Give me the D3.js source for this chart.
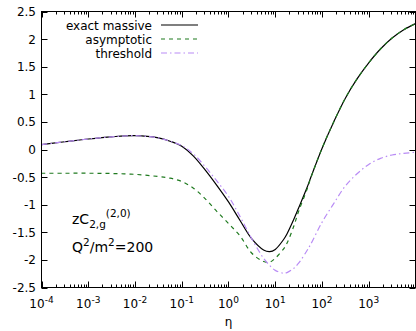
<!DOCTYPE html>
<html>
<head>
<meta charset="utf-8">
<script src="https://cdn.jsdelivr.net/npm/d3@7"></script>
<style>
  html, body { margin: 0; padding: 0; background: #fff; }
  svg { display: block; font-family: "DejaVu Sans", sans-serif; }
</style>
</head>
<body>
<svg id="chart" width="416" height="331"></svg>
<script>
// Sampling points in eta (shared by all three curves)
const eta = [1e-4, 3.16e-4, 1e-3, 3.16e-3, 1e-2, 3.16e-2, 5.62e-2, 0.1, 0.178, 0.316, 0.562, 1,
             1.78, 3.16, 5.62, 7.59, 10, 15.1, 17.8, 25.1, 31.6, 47.9, 56.2, 100, 178, 316, 562,
             1000, 1780, 3160, 5620, 10000];

// zC_{2,g}^{(2,0)} at Q^2/m^2 = 200
const exactMassive = [0.09, 0.14, 0.19, 0.23, 0.25, 0.21, 0.15, 0.06, -0.12, -0.37, -0.65, -0.95,
                      -1.29, -1.62, -1.82, -1.85, -1.81, -1.63, -1.53, -1.26, -1.06, -0.69, -0.53, 0.02,
                      0.50, 0.93, 1.28, 1.57, 1.82, 2.02, 2.17, 2.28];
const asymptotic   = [-0.43, -0.43, -0.43, -0.435, -0.45, -0.49, -0.52, -0.58, -0.70, -0.89, -1.12, -1.34,
                      -1.57, -1.88, -2.03, -2.04, -1.97, -1.80, -1.70, -1.38, -1.12, -0.72, -0.54, 0.02,
                      0.50, 0.93, 1.28, 1.57, 1.82, 2.02, 2.17, 2.28];
const threshold    = [0.09, 0.14, 0.19, 0.23, 0.25, 0.21, 0.15, 0.07, -0.08, -0.31, -0.57, -0.85,
                      -1.22, -1.62, -1.97, -2.10, -2.19, -2.24, -2.23, -2.15, -2.06, -1.83, -1.73, -1.32,
                      -0.98, -0.66, -0.44, -0.27, -0.16, -0.10, -0.07, -0.05];

const seriesNames = ["exact massive", "asymptotic", "threshold"];
const xTicks = [1e-4, 1e-3, 1e-2, 1e-1, 1e0, 1e1, 1e2, 1e3];
const xTickExp = ["-4", "-3", "-2", "-1", "0", "1", "2", "3"];
const yTicks = [-2.5, -2, -1.5, -1, -0.5, 0, 0.5, 1, 1.5, 2, 2.5];

const svg = d3.select("#chart");
const L = 41.5, R = 415.5, T = 11.5, B = 287.5;

const x = d3.scaleLog().domain([1e-4, 1e4]).range([L, R]);
const y = d3.scaleLinear().domain([-2.5, 2.5]).range([B, T]);

// clip for curves
svg.append("defs").append("clipPath").attr("id", "plotclip")
  .append("rect").attr("x", L).attr("y", T).attr("width", R - L).attr("height", B - T);

// minor / major ticks on all four sides, pointing inward
const tickG = svg.append("g").attr("stroke", "#000").attr("stroke-width", 1);
const minorTicks = [];
for (let e = -4; e < 4; e++) for (let m = 2; m <= 9; m++) minorTicks.push(m * Math.pow(10, e));
minorTicks.forEach(v => {
  const px = Math.round(x(v)) + 0.5;
  tickG.append("line").attr("x1", px).attr("x2", px).attr("y1", B).attr("y2", B - 3);
  tickG.append("line").attr("x1", px).attr("x2", px).attr("y1", T).attr("y2", T + 3);
});
xTicks.forEach(v => {
  const px = Math.round(x(v)) + 0.5;
  tickG.append("line").attr("x1", px).attr("x2", px).attr("y1", B).attr("y2", B - 6);
  tickG.append("line").attr("x1", px).attr("x2", px).attr("y1", T).attr("y2", T + 6);
});
yTicks.forEach(v => {
  const py = Math.round(y(v)) + 0.5;
  tickG.append("line").attr("x1", L).attr("x2", L + 6).attr("y1", py).attr("y2", py);
  tickG.append("line").attr("x1", R).attr("x2", R - 6).attr("y1", py).attr("y2", py);
});

// y tick labels
svg.append("g").selectAll("text").data(yTicks).join("text")
  .attr("x", 36).attr("y", d => y(d) + 4.5)
  .attr("text-anchor", "end").attr("font-size", 12).attr("fill", "#000")
  .text(d => d === 0 ? "0" : String(d));

// x tick labels: 10 with superscript exponent
const xl = svg.append("g").selectAll("text").data(xTicks).join("text")
  .attr("x", d => x(d)).attr("y", 308)
  .attr("text-anchor", "middle").attr("font-size", 12).attr("fill", "#000");
xl.append("tspan").text("10");
xl.append("tspan").attr("dy", -5).attr("font-size", 9).text((d, i) => xTickExp[i]);

// x axis title
svg.append("text").attr("x", x(1)).attr("y", 326).attr("text-anchor", "middle")
  .attr("font-size", 12).text("η");

// curves
const line = d3.line().x(d => x(d[0])).y(d => y(d[1])).curve(d3.curveCatmullRom.alpha(0.5));
const styles = [
  { color: "#000000", dash: null, width: 1.2 },
  { color: "#1f7a1f", dash: "4,4", width: 1.2 },
  { color: "#b98cf5", dash: "6,3,1.5,3", width: 1.2 }
];
const allSeries = [exactMassive, asymptotic, threshold];
const curves = svg.append("g").attr("clip-path", "url(#plotclip)");
allSeries.forEach((vals, i) => {
  curves.append("path")
    .datum(eta.map((e, k) => [e, vals[k]]))
    .attr("fill", "none")
    .attr("stroke", styles[i].color)
    .attr("stroke-width", styles[i].width)
    .attr("stroke-dasharray", styles[i].dash)
    .attr("d", line);
});

// frame
svg.append("rect").attr("x", L).attr("y", T).attr("width", R - L).attr("height", B - T)
  .attr("fill", "none").attr("stroke", "#000").attr("stroke-width", 1);

// legend
const lg = svg.append("g");
seriesNames.forEach((name, i) => {
  const cy = 25 + i * 14;
  lg.append("text").attr("x", 152).attr("y", cy + 4.5).attr("text-anchor", "end")
    .attr("font-size", 12).text(name);
  lg.append("line").attr("x1", 161).attr("x2", 198).attr("y1", cy).attr("y2", cy)
    .attr("stroke", styles[i].color).attr("stroke-width", styles[i].width)
    .attr("stroke-dasharray", styles[i].dash);
});

// annotation
const a1 = svg.append("text").attr("x", 72).attr("y", 224).attr("font-size", 14);
a1.append("tspan").text("zC");
a1.append("tspan").attr("font-size", 10.5).attr("dy", 4).text("2,g");
a1.append("tspan").attr("font-size", 10.5).attr("dy", -11).text("(2,0)");
const a2 = svg.append("text").attr("x", 72).attr("y", 252).attr("font-size", 14);
a2.append("tspan").text("Q");
a2.append("tspan").attr("font-size", 10.5).attr("dy", -6).text("2");
a2.append("tspan").attr("dy", 6).text("/m");
a2.append("tspan").attr("font-size", 10.5).attr("dy", -6).text("2");
a2.append("tspan").attr("dy", 6).text("=200");
</script>
</body>
</html>
